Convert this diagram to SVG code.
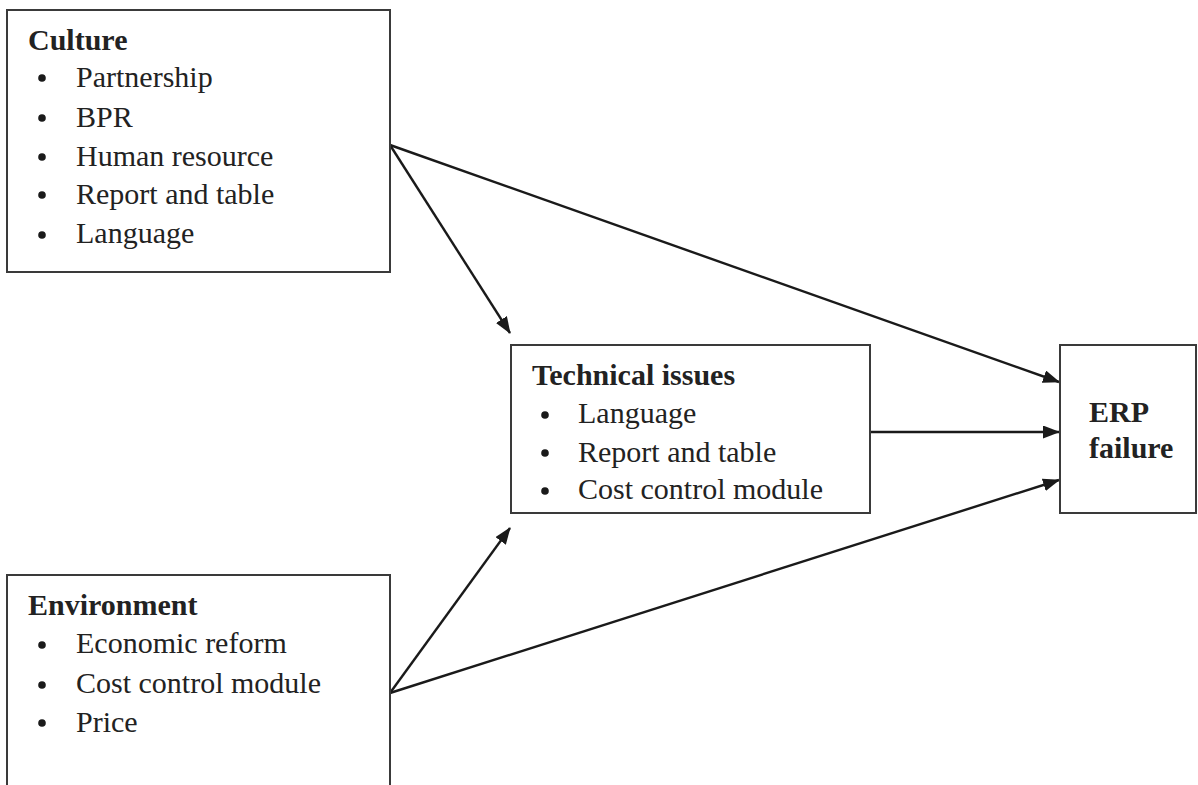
<svg xmlns="http://www.w3.org/2000/svg" width="1198" height="785" viewBox="0 0 1198 785">
<defs>
<marker id="ah" viewBox="0 0 17 13" refX="16" refY="6.5" markerWidth="17" markerHeight="13" markerUnits="userSpaceOnUse" orient="auto">
<path d="M0,0 L17,6.5 L0,13 Z" fill="#1a1a1a"/>
</marker>
</defs>
<style>
.box{fill:#fff;stroke:#3a3a3a;stroke-width:2}
text{font-family:"Liberation Serif","Times New Roman",serif;font-size:30px;fill:#222}
.t{font-weight:bold}
.b{fill:#1a1a1a}
.c{stroke:#1a1a1a;stroke-width:2.4;fill:none;marker-end:url(#ah)}
</style>
<rect width="1198" height="785" fill="#fff"/>
<g id="connectors">
<line class="c" x1="390" y1="145" x2="1059" y2="382"/>
<line class="c" x1="390" y1="145" x2="510" y2="333"/>
<line class="c" x1="870" y1="432" x2="1059" y2="432"/>
<line class="c" x1="390" y1="693" x2="510" y2="528"/>
<line class="c" x1="390" y1="693" x2="1059" y2="480"/>
</g>
<g id="culture">
<rect class="box" x="7" y="10" width="383" height="262"/>
<text class="t" x="28" y="50">Culture</text>
<circle class="b" cx="42" cy="78" r="3.8"/><text x="76" y="87">Partnership</text>
<circle class="b" cx="42" cy="118" r="3.8"/><text x="76" y="127">BPR</text>
<circle class="b" cx="42" cy="157" r="3.8"/><text x="76" y="166">Human resource</text>
<circle class="b" cx="42" cy="195" r="3.8"/><text x="76" y="204">Report and table</text>
<circle class="b" cx="42" cy="235" r="3.8"/><text x="76" y="243">Language</text>
</g>
<g id="technical">
<rect class="box" x="511" y="345" width="359" height="168"/>
<text class="t" x="532" y="385">Technical issues</text>
<circle class="b" cx="545" cy="415" r="3.8"/><text x="578" y="423">Language</text>
<circle class="b" cx="545" cy="453" r="3.8"/><text x="578" y="462">Report and table</text>
<circle class="b" cx="545" cy="491" r="3.8"/><text x="578" y="499">Cost control module</text>
</g>
<g id="environment">
<rect class="box" x="7" y="575" width="383" height="220"/>
<text class="t" x="28" y="615">Environment</text>
<circle class="b" cx="42" cy="645" r="3.8"/><text x="76" y="653">Economic reform</text>
<circle class="b" cx="42" cy="685" r="3.8"/><text x="76" y="693">Cost control module</text>
<circle class="b" cx="42" cy="723" r="3.8"/><text x="76" y="732">Price</text>
</g>
<g id="erp">
<rect class="box" x="1060" y="345" width="136" height="168"/>
<text class="t" x="1089" y="422">ERP</text>
<text class="t" x="1089" y="458">failure</text>
</g>
</svg>
